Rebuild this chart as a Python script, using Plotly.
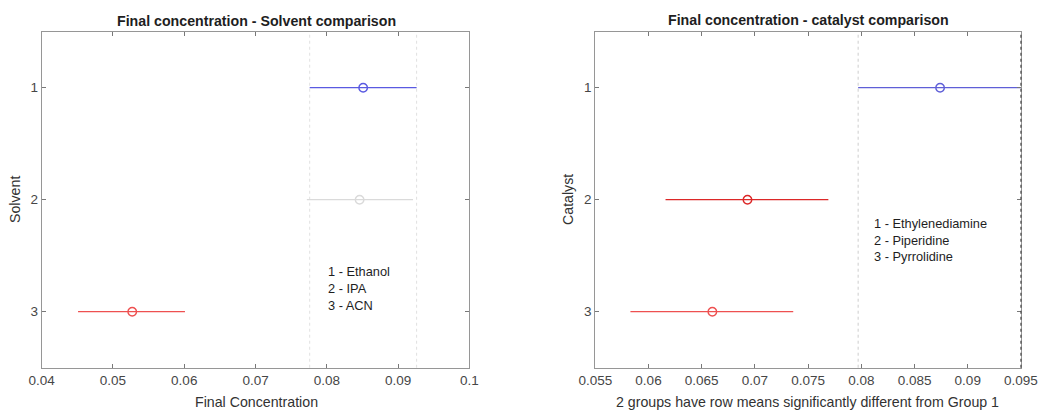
import plotly.graph_objects as go

# Solvent comparison: group means and comparison intervals
solvent_groups = [1, 2, 3]
solvent_names = ["Ethanol", "IPA", "ACN"]
solvent_mean = [0.0851, 0.0846, 0.0527]
solvent_lo = [0.0776, 0.0772, 0.0451]
solvent_hi = [0.0926, 0.0921, 0.0601]
solvent_colors = ["rgb(90,90,225)", "rgb(218,218,218)", "rgb(238,80,80)"]

# Catalyst comparison: group means and comparison intervals
catalyst_groups = [1, 2, 3]
catalyst_names = ["Ethylenediamine", "Piperidine", "Pyrrolidine"]
catalyst_mean = [0.0874, 0.0693, 0.0660]
catalyst_lo = [0.0797, 0.0616, 0.0583]
catalyst_hi = [0.0951, 0.0769, 0.0736]
catalyst_colors = ["rgb(95,95,215)", "rgb(220,40,40)", "rgb(238,80,80)"]

left_ticks = [0.04, 0.05, 0.06, 0.07, 0.08, 0.09, 0.1]
left_ticklabels = ["0.04", "0.05", "0.06", "0.07", "0.08", "0.09", "0.1"]
right_ticks = [0.055, 0.06, 0.065, 0.07, 0.075, 0.08, 0.085, 0.09, 0.095]
right_ticklabels = ["0.055", "0.06", "0.065", "0.07", "0.075", "0.08", "0.085", "0.09", "0.095"]

FONT = "Liberation Sans, Arial, sans-serif"
fig = go.Figure()


def add_intervals(xa, ya, groups, means, lo, hi, colors):
    for g, m, a, b, c in zip(groups, means, lo, hi, colors):
        fig.add_trace(go.Scatter(
            x=[a, b], y=[g, g], mode="lines", xaxis=xa, yaxis=ya,
            line=dict(color=c, width=1.3), showlegend=False, hoverinfo="skip"))
        fig.add_trace(go.Scatter(
            x=[m], y=[g], mode="markers", xaxis=xa, yaxis=ya,
            marker=dict(symbol="circle-open", size=8.5, color=c,
                        line=dict(width=1.4, color=c)),
            showlegend=False))


add_intervals("x", "y", solvent_groups, solvent_mean, solvent_lo, solvent_hi, solvent_colors)
add_intervals("x2", "y2", catalyst_groups, catalyst_mean, catalyst_lo, catalyst_hi, catalyst_colors)

# dotted reference lines at the interval limits of group 1
for xv in (solvent_lo[0], solvent_hi[0]):
    fig.add_shape(type="line", xref="x", yref="y domain", x0=xv, x1=xv, y0=0, y1=1,
                  line=dict(color="rgb(225,225,225)", width=1, dash="dot"), layer="below")
for xv in (catalyst_lo[0], catalyst_hi[0]):
    fig.add_shape(type="line", xref="x2", yref="y2 domain", x0=xv, x1=xv, y0=0, y1=1,
                  line=dict(color="rgb(205,205,205)", width=1, dash="dot"), layer="below")
fig.add_shape(type="line", xref="x2 domain", yref="y2 domain", x0=1, x1=1, y0=0, y1=1,
              line=dict(color="rgb(70,70,70)", width=1.2, dash="dot"))

axis_common = dict(
    showgrid=False, zeroline=False, showline=True, mirror="ticks", automargin=False,
    linecolor="rgb(150,150,150)", linewidth=1, ticks="inside", ticklen=4,
    tickcolor="rgb(120,120,120)", tickfont=dict(family=FONT, size=13.5, color="rgb(70,70,70)"),
)

fig.update_layout(
    width=1040, height=411, margin=dict(l=0, r=0, t=0, b=0, autoexpand=False),
    paper_bgcolor="white", plot_bgcolor="white",
    xaxis=dict(domain=[0.0401, 0.4513], range=[0.04, 0.1], tickvals=left_ticks,
               ticktext=left_ticklabels, anchor="y", **axis_common),
    yaxis=dict(domain=[0.1053, 0.9229], range=[3.5, 0.5], tickvals=solvent_groups,
               ticktext=[str(g) for g in solvent_groups], anchor="x", **axis_common),
    xaxis2=dict(domain=[0.5724, 0.9817], range=[0.055, 0.095], tickvals=right_ticks,
                ticktext=right_ticklabels, anchor="y2", **axis_common),
    yaxis2=dict(domain=[0.1053, 0.9229], range=[3.5, 0.5], tickvals=catalyst_groups,
                ticktext=[str(g) for g in catalyst_groups], anchor="x2", **axis_common),
)

annotations = []
title_font = dict(family=FONT, size=14.2, color="rgb(30,30,30)")
label_font = dict(family=FONT, size=14.2, color="rgb(50,50,50)")
text_font = dict(family=FONT, size=12.8, color="rgb(30,30,30)")


def note(text, px, py, font, xanchor="center", angle=0):
    annotations.append(dict(text=text, x=px / 1040, y=1 - py / 411, xref="paper", yref="paper",
                            xanchor=xanchor, yanchor="middle", showarrow=False,
                            textangle=angle, font=font))


note("<b>Final concentration - Solvent comparison</b>", 256, 21, title_font)
note("<b>Final concentration - catalyst comparison</b>", 808, 20, title_font)
note("Final Concentration", 256, 402, label_font)
note("2 groups have row means significantly different from Group 1", 807, 402, label_font)
note("Solvent", 15, 200, label_font, angle=-90)
note("Catalyst", 568, 200, label_font, angle=-90)

for i, (g, name) in enumerate(zip(solvent_groups, solvent_names)):
    note(f"{g} - {name}", 326, 271 + 17 * i, text_font, xanchor="left")
for i, (g, name) in enumerate(zip(catalyst_groups, catalyst_names)):
    note(f"{g} - {name}", 872, 223.5 + 16.7 * i, text_font, xanchor="left")

fig.update_layout(annotations=annotations)

fig.write_html("out.html")
